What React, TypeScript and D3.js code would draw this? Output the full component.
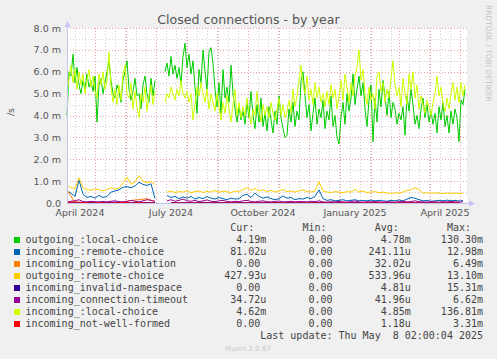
import React from 'react';
import * as d3 from 'd3';

// time axis: one point per day, 400 days ending Thu May 8 2025
const START = Date.UTC(2024, 3, 3);
const END = START + 400 * 86400000;

// values in milli (m) units per second
const outgoingLocal = [
  4.0, 6.0, 5.8, 6.8, 5.5, 6.2, 5.4, 5.0, 5.6, 5.2, 5.9, 5.3, 5.6, 5.1, 5.8, 3.7, 5.4, 5.7, 5.0, 5.5,
  6.0, 6.5, 5.6, 5.0, 4.8, 5.4, 5.1, 4.6, 5.6, 6.0, 6.5, 5.2, 4.7, 5.1, 5.7, 4.9, 5.0, 4.3, 5.4, 5.8,
  5.0, 4.6, 5.7, 4.9, 5.6, null, null, null, null,
  6.0, 6.4, 5.8, 6.7, 5.9, 6.3, 5.7, 6.2, 5.4, 6.7, 7.3, 6.2, 6.8, 5.9, 6.5, 5.3, 4.1, 6.1, 5.5, 7.0,
  6.0, 5.2, 6.9, 7.1, 6.4, 5.2, 4.4, 5.5, 4.1, 6.1, 4.8, 5.3, 4.6, 6.3, 5.0, 4.3, 3.7, 4.4, 3.8, 4.2,
  3.6, 4.6, 3.9, 5.1, 4.0, 3.4, 4.5, 3.7, 4.8, 3.5, 4.1,
  3.3, 4.4, 3.8, 3.2, 4.2, 3.6, 4.9, 3.9, 3.4, 3.0, 3.1, 4.3, 3.7, 4.6, 3.5, 4.2, 3.8, 5.6, 6.0, 4.9,
  3.9, 4.5, 3.3, 4.1, 4.8, 3.6, 4.3, 3.9, 4.7, 3.4, 4.2, 3.8, 4.9, 3.5, 4.0, 3.0, 2.7, 3.9, 4.6, 3.6,
  5.0, 4.2, 4.8, 5.9, 4.5, 5.2, 5.8, 4.9, 5.5, 4.3, 3.5, 4.7, 5.4, 2.8, 4.8, 3.7, 5.2, 4.4, 5.6, 4.9,
  4.0, 5.1, 3.9, 4.6, 4.3, 3.6, 4.1, 3.8, 4.4, 3.1, 4.9, 4.2, 5.2, 4.5, 3.6, 4.0, 3.4, 4.3, 4.8, 3.9,
  4.5, 3.7, 4.2, 3.6, 4.1, 3.2, 4.4, 3.8, 4.6, 3.5, 4.0, 3.2, 4.2, 3.6, 4.3, 3.9, 2.8, 4.7, 4.5, 5.2,
];

const incomingLocal = [
  5.0, 5.7, 6.3, 5.5, 6.1, 5.2, 6.0, 5.4, 5.9, 5.0, 5.6, 6.1, 5.3, 5.8, 5.1, 4.8, 5.9, 5.4, 6.0, 5.2,
  5.6, 6.9, 5.3, 4.6, 5.2, 4.5, 5.4, 4.7, 5.9, 6.3, 5.0, 4.8, 5.5, 4.3, 5.1, 4.4, 3.9, 5.0, 4.6, 5.3,
  4.2, 4.9, 5.4, 4.5, 5.1, null, null, null, null,
  4.6, 5.0, 4.8, 5.3, 5.0, 4.7, 5.2, 4.9, 5.6, 5.0, 4.8, 5.1, 4.6, 5.0, 3.8, 4.5, 5.3, 4.9, 5.5, 5.0,
  4.6, 5.2, 4.3, 5.0, 4.6, 4.2, 5.0, 4.4, 3.8, 4.6, 4.1, 4.9, 4.3, 3.7, 4.5, 5.2, 4.0, 4.6, 3.9, 4.4,
  4.0, 4.8, 4.1, 3.6, 4.3, 4.0, 5.1, 4.2, 3.7, 4.5, 4.0,
  4.4, 3.9, 4.6, 4.1, 3.8, 4.3, 4.8, 4.0, 4.5, 3.9, 4.2, 4.7, 4.1, 5.2, 4.4, 4.9, 5.6, 6.3, 5.4, 5.0,
  5.8, 4.7, 5.2, 4.5, 5.5, 4.8, 5.3, 4.6, 5.0, 4.4, 5.1, 4.5, 5.4, 4.8, 5.2, 4.3, 4.9, 5.6, 4.7, 5.9,
  5.3, 4.6, 5.5, 4.9, 5.8, 6.2, 7.0, 5.6, 6.1, 5.0, 4.5, 5.3, 4.7, 5.0, 4.3, 5.8, 6.0, 5.1, 5.5, 4.6,
  5.2, 4.8, 5.7, 6.5, 5.4, 4.9, 5.3, 4.4, 5.7, 5.0, 4.5, 5.9, 5.2, 6.0, 4.8, 5.4, 4.3, 4.9, 4.5, 4.1,
  4.7, 4.4, 4.0, 4.6, 5.0, 5.8, 4.9, 5.3, 4.5, 4.2, 4.8, 4.3, 5.0, 5.5, 4.7, 5.3, 4.6, 5.5, 4.9, 5.4,
];

const outgoingRemote = [
  0.82, 0.7, 0.65, 1.15, 0.7, 0.62, 0.58, 0.65, 0.6, 0.55, 0.62, 0.7, 0.63, 0.68, 0.9, 1.18, 0.85, 0.95, 1.25, 1.0,
  0.92, 0.98, 0.85, null, null, 0.5, 0.55, 0.48, 0.52, 0.5, 0.56, 0.47, 0.52, 0.55, 0.48, 0.53, 0.5, 0.57, 0.49, 0.54,
  0.51, 0.48, 0.55, 0.5, 0.62, 0.7, 0.58, 0.66, 0.55, 0.6, 0.52, 0.58, 0.5, 0.55, 0.62, 0.52, 0.55, 0.5, 0.56, 0.6,
  0.53, 0.5, 0.55, 0.97, 0.55, 0.5, 0.48, 0.52, 0.5, 0.47, 0.52, 0.5, 0.62, 0.5, 0.55, 0.48, 0.5, 0.52, 0.47, 0.5,
  0.45, 0.44, 0.46, 0.45, 0.5, 0.58, 0.6, 0.7, 0.62, 0.45, 0.47, 0.44, 0.46, 0.45, 0.43, 0.46, 0.44, 0.45, 0.43, 0.45,
];

const incomingRemote = [
  0.55, 0.45, 0.3, 1.05, 0.4, 0.25, 0.3, 0.22, 0.35, 0.25, 0.3, 0.5, 0.55, 0.6, 0.72, 0.75, 0.7, 0.78, 0.95, 0.85,
  0.8, 0.88, 0.2, null, null, 0.35, 0.25, 0.3, 0.2, 0.28, 0.22, 0.3, 0.18, 0.25, 0.2, 0.3, 0.22, 0.18, 0.25, 0.2,
  0.15, 0.22, 0.18, 0.2, 0.35, 0.4, 0.25, 0.45, 0.3, 0.22, 0.28, 0.2, 0.15, 0.2, 0.32, 0.22, 0.25, 0.15, 0.2, 0.18,
  0.25, 0.2, 0.3, 0.6, 0.2, 0.12, 0.15, 0.1, 0.12, 0.15, 0.1, 0.12, 0.15, 0.1, 0.12, 0.1, 0.13, 0.1, 0.12, 0.1,
  0.08, 0.12, 0.1, 0.14, 0.1, 0.18, 0.25, 0.22, 0.15, 0.1, 0.12, 0.08, 0.1, 0.12, 0.1, 0.13, 0.1, 0.12, 0.09, 0.11,
];

const connectionTimeout = [
  0.05, 0.08, 0.1, 0.15, 0.06, 0.05, 0.08, 0.06, 0.05, 0.07, 0.05, 0.08, 0.1, 0.06, 0.05, 0.07, 0.12, 0.08, 0.05, 0.1,
  0.15, 0.12, 0.08, null, null, 0.1, 0.15, 0.08, 0.12, 0.18, 0.1, 0.08, 0.12, 0.06, 0.1, 0.14, 0.08, 0.06, 0.1, 0.12,
  0.07, 0.05, 0.08, 0.06, 0.1, 0.12, 0.07, 0.05, 0.08, 0.1, 0.06, 0.05, 0.07, 0.09, 0.05, 0.06, 0.08, 0.05, 0.07, 0.06,
  0.05, 0.08, 0.06, 0.1, 0.05, 0.04, 0.06, 0.05, 0.07, 0.05, 0.04, 0.06, 0.1, 0.05, 0.04, 0.06, 0.05, 0.07, 0.05, 0.04,
  0.06, 0.05, 0.04, 0.06, 0.08, 0.05, 0.07, 0.1, 0.06, 0.05, 0.04, 0.06, 0.05, 0.04, 0.06, 0.05, 0.07, 0.05, 0.04, 0.06,
];

const policyViolation = [
  0.6, 0.02, 0, 0, 0, 0, 0, 0.05, 0.12, 0.15, 0.2, 0.06, null, 0, 0, 0, 0, 0, 0, 0,
  0, 0, 0, 0, 0, 0, 0, 0, 0, 0, 0, 0, 0, 0, 0, 0, 0, 0, 0, 0,
  0, 0, 0, 0, 0, 0, 0, 0, 0, 0,
];

const invalidNamespace = [
  0.02, 0.01, 0.03, 0.02, 0.01, 0.02, 0.04, 0.02, 0.01, 0.03, 0.02, 0.01, null, 0.02, 0.01, 0.02, 0.01, 0.03, 0.01, 0.02,
  0.01, 0.01, 0.02, 0.01, 0.01, 0.02, 0.01, 0.01, 0.02, 0.01, 0.01, 0.01, 0.02, 0.01, 0.01, 0.01, 0.02, 0.01, 0.01, 0.01,
  0.02, 0.01, 0.01, 0.01, 0.01, 0.02, 0.01, 0.01, 0.01, 0.01,
];

const notWellFormed = [
  0.03, 0.05, 0.02, 0, 0.01, 0, 0, 0.02, 0, 0.01, 0, 0, null, 0, 0, 0, 0, 0, 0, 0,
  0, 0, 0, 0, 0, 0, 0, 0, 0, 0, 0, 0, 0, 0, 0, 0, 0, 0, 0, 0,
  0, 0, 0, 0, 0, 0, 0, 0, 0, 0,
];

const labels = [
  'outgoing_:local-choice',
  'incoming_:remote-choice',
  'incoming_policy-violation',
  'outgoing_:remote-choice',
  'incoming_invalid-namespace',
  'incoming_connection-timeout',
  'incoming_:local-choice',
  'incoming_not-well-formed',
];
const colors = ['#00CC00', '#0066B3', '#FF8000', '#FFCC00', '#330099', '#990099', '#CCFF00', '#FF0000'];
const curVals = ['4.19m', '81.02u', '0.00', '427.93u', '0.00', '34.72u', '4.62m', '0.00'];
const minVals = ['0.00', '0.00', '0.00', '0.00', '0.00', '0.00', '0.00', '0.00'];
const avgVals = ['4.78m', '241.11u', '32.02u', '533.96u', '4.81u', '41.96u', '4.85m', '1.18u'];
const maxVals = ['130.30m', '12.98m', '6.49m', '13.10m', '15.31m', '6.62m', '136.81m', '3.31m'];

// [values, step in days] per series, same order as labels
const seriesData: [(number | null)[], number][] = [
  [outgoingLocal, 2],
  [incomingRemote, 4],
  [policyViolation, 8],
  [outgoingRemote, 4],
  [invalidNamespace, 8],
  [connectionTimeout, 4],
  [incomingLocal, 2],
  [notWellFormed, 8],
];

const W = 497;
const H = 359;
const L = 67, R = 467, T = 28, B = 203;
const FONT = '"DejaVu Sans", sans-serif';
const MONO = '"DejaVu Sans Mono", monospace';

type Pt = { t: Date; v: number | null };

export default function App() {
  const x = d3.scaleTime().domain([new Date(START), new Date(END)]).range([L, R]);
  const y = d3.scaleLinear().domain([0, 8]).range([B, T]);

  const months = d3.utcMonth.range(new Date(Date.UTC(2024, 3, 1)), new Date(END));
  const majorX = months.filter(m => +m >= START);
  const minorX = d3.utcDay.every(10)!
    .range(new Date(START), new Date(END))
    .filter(d => d.getUTCDate() !== 1);
  const labelMonths = months.filter(m => m.getUTCMonth() % 3 === 0);
  const fmt = d3.utcFormat('%B %Y');

  const majorY = d3.range(0, 8.001, 1);
  const minorY = d3.range(0.5, 8, 1);

  const line = d3.line<Pt>()
    .defined(p => p.v !== null)
    .x(p => x(p.t))
    .y(p => y(p.v as number));

  const x0 = 25.5;
  const cw = 6.02;
  const colEnd = [40, 52, 64, 76];
  const valX = (v: string, c: number) =>
    x0 + (/[a-z]$/.test(v) ? colEnd[c] : colEnd[c] - 1) * cw;

  return (
    <svg width={W} height={H} style={{ position: 'absolute', left: 0, top: 0, display: 'block' }}>
      <rect x={0} y={0} width={W} height={H} fill="#f0f0f0" />
      <rect x={L} y={T} width={R - L} height={B - T} fill="#ffffff" />

      {minorY.map(v => (
        <line key={'my' + v} x1={L} x2={R} y1={Math.round(y(v)) + 0.5} y2={Math.round(y(v)) + 0.5}
          stroke="#cfcfcf" strokeDasharray="1,2" />
      ))}
      {minorX.map(d => (
        <line key={'mx' + +d} x1={Math.round(x(d)) + 0.5} x2={Math.round(x(d)) + 0.5} y1={T} y2={B}
          stroke="#cfcfcf" strokeDasharray="1,2" />
      ))}
      {majorY.map(v => (
        <line key={'My' + v} x1={L} x2={R} y1={Math.round(y(v)) + 0.5} y2={Math.round(y(v)) + 0.5}
          stroke="#eba0a0" strokeDasharray="1,2" />
      ))}
      {majorX.map(d => (
        <line key={'Mx' + +d} x1={Math.round(x(d)) + 0.5} x2={Math.round(x(d)) + 0.5} y1={T} y2={B}
          stroke="#eba0a0" strokeDasharray="1,2" />
      ))}

      {seriesData.map(([vals, step], i) => {
        const pts: Pt[] = vals.map((v, k) => ({ t: new Date(START + k * step * 86400000), v }));
        return <path key={labels[i]} d={line(pts) || ''} fill="none" stroke={colors[i]} strokeWidth={1} />;
      })}

      {/* axes */}
      <line x1={L + 0.5} x2={L + 0.5} y1={B} y2={24} stroke="#c4c4ee" />
      <line x1={L} x2={471} y1={B + 0.5} y2={B + 0.5} stroke="#c4c4ee" />
      <polygon points={`${L - 2.5},27 ${L + 0.5},21 ${L + 3.5},27`} fill="#c4c4ee" />
      <polygon points={`469,${B - 2.5} 475,${B + 0.5} 469,${B + 3.5}`} fill="#c4c4ee" />

      {majorY.map(v => (
        <text key={'yl' + v} x={61} y={y(v) + 3.5} textAnchor="end" fontFamily={FONT} fontSize={9.5} fill="#555">
          {v === 0 ? '0.0' : `${v.toFixed(1)} m`}
        </text>
      ))}
      {labelMonths.map(m => (
        <text key={'xl' + +m} x={x(d3.utcDay.offset(m, 15))} y={216} textAnchor="middle"
          fontFamily={FONT} fontSize={9.5} fill="#555">
          {fmt(m)}
        </text>
      ))}

      <text x={248.5} y={24} textAnchor="middle" fontFamily={FONT} fontSize={12.6} fill="#555">
        Closed connections - by year
      </text>
      <text transform="translate(14,112) rotate(-90)" textAnchor="middle" fontFamily={FONT} fontSize={9.5} fill="#555">
        /s
      </text>
      <text transform="translate(485.5,5) rotate(90)" fontFamily={FONT} fontSize={7.5} fill="#c4c4c4">
        RRDTOOL / TOBI OETIKER
      </text>

      {/* legend */}
      {['Cur:', 'Min:', 'Avg:', 'Max:'].map((h, c) => (
        <text key={h} x={x0 + (colEnd[c] - 2) * cw} y={231} textAnchor="end" fontFamily={MONO} fontSize={10} fill="#444">
          {h}
        </text>
      ))}
      {labels.map((lab, i) => {
        const by = 243 + i * 12;
        return (
          <g key={lab}>
            <rect x={14} y={by - 6} width={6} height={6} fill={colors[i]} />
            <text x={x0} y={by} fontFamily={MONO} fontSize={10} fill="#444">{lab}</text>
            {[curVals[i], minVals[i], avgVals[i], maxVals[i]].map((v, c) => (
              <text key={c} x={valX(v, c)} y={by} textAnchor="end" fontFamily={MONO} fontSize={10} fill="#444">{v}</text>
            ))}
          </g>
        );
      })}
      <text x={x0 + 76 * cw} y={338.5} textAnchor="end" fontFamily={MONO} fontSize={10} fill="#444" style={{ whiteSpace: 'pre' }}>
        {'Last update: Thu May  8 02:00:04 2025'}
      </text>
      <text x={248} y={351} textAnchor="middle" fontFamily={FONT} fontSize={7} fill="#c8c8c8">
        Munin 2.0.67
      </text>
    </svg>
  );
}
